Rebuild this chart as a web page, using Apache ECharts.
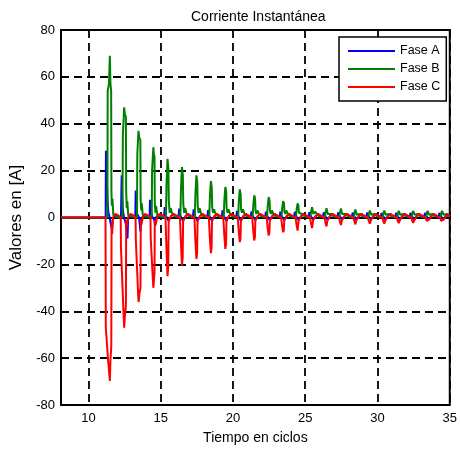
<!DOCTYPE html>
<html>
<head>
<meta charset="utf-8">
<script src="https://cdn.jsdelivr.net/npm/echarts@6/dist/echarts.min.js"></script>
<style>html,body{margin:0;padding:0;background:#fff}#c{width:460px;height:451px}</style>
</head>
<body>
<div id="c"></div>
<script>
var seriesNames = ['Fase A', 'Fase B', 'Fase C'];
var xTickLabels = [10, 15, 20, 25, 30, 35];
var yTickLabels = [-80, -60, -40, -20, 0, 20, 40, 60, 80];

// Fase A (blue) [ciclos, A]
var faseA = [
[8.1,0],[11.19,0],[11.21,28.5],[11.25,20],[11.29,13],[11.33,6],[11.38,2],[11.45,0.5],[11.52,-2],[11.62,-5],[11.68,-1],[11.8,1],[12.0,0.5],
[12.25,0],[12.28,12],[12.30,18],[12.33,10],[12.38,3],[12.46,0],[12.6,-3],[12.7,-9],[12.74,-1],[12.85,1],[13.05,0.5],
[13.24,0],[13.27,11.5],[13.30,6],[13.37,1.5],[13.5,0],[13.6,-6],[13.64,-1],[13.8,1],[14.0,0.5],
[14.23,0],[14.26,7.6],[14.30,3],[14.4,0.5],[14.55,-1],[14.62,-3.5],[14.66,0],[14.85,1],[15.0,0.5],
[15.22,0],[15.28,4.4],[15.34,1],[15.55,-1.5],[15.7,0.5],[15.9,1.5],
[16.22,0],[16.28,3.8],[16.34,1],[16.55,-1.5],[16.7,0.5],[16.9,1.5],
[17.22,0],[17.28,3.5],[17.34,1],[17.55,-1.5],[17.7,0.5],[17.9,1.5],
[18.22,0],[18.28,3.2],[18.34,1],[18.55,-1.5],[18.7,0.5],[18.9,1.5],
[19.22,0],[19.28,3.0],[19.34,1],[19.55,-1.5],[19.7,0.5],[19.9,1.5],
[20.22,0],[20.28,2.8],[20.34,1],[20.55,-1.5],[20.7,0.5],[20.9,1.5],
[21.22,0],[21.28,2.6],[21.34,1],[21.55,-1.2],[21.7,0.5],[21.9,1.5],
[22.22,0],[22.28,2.5],[22.34,1],[22.55,-1.2],[22.7,0.5],[22.9,1.5],
[23.22,0],[23.28,2.5],[23.34,1],[23.55,-1.2],[23.7,0.5],[23.9,1.5],
[24.22,0],[24.28,2.4],[24.34,1],[24.55,-1.2],[24.7,0.5],[24.9,1.5],
[25.22,0],[25.28,2.3],[25.34,1],[25.55,-1],[25.7,0.5],[25.9,1.5],
[26.22,0],[26.28,2.2],[26.34,1],[26.55,-1],[26.7,0.5],[26.9,1.5],
[27.22,0],[27.28,2.2],[27.34,1],[27.55,-1],[27.7,0.5],[27.9,1.5],
[28.22,0],[28.28,2.1],[28.34,1],[28.55,-1],[28.7,0.5],[28.9,1.5],
[29.22,0],[29.28,2.1],[29.34,1],[29.55,-1],[29.7,0.5],[29.9,1.5],
[30.22,0],[30.28,2.0],[30.34,1],[30.55,-1],[30.7,0.5],[30.9,1.5],
[31.22,0],[31.28,2.0],[31.34,1],[31.55,-1],[31.7,0.5],[31.9,1.5],
[32.22,0],[32.28,2.0],[32.34,1],[32.55,-1],[32.7,0.5],[32.9,1.5],
[33.22,0],[33.28,2.0],[33.34,1],[33.55,-1],[33.7,0.5],[33.9,1.5],
[34.22,0],[34.28,2.0],[34.34,1],[34.55,-1],[34.7,0.5],[35,1]
];

// Fase B (green)
var faseB = [
[8.1,0],[11.31,0],[11.33,54],[11.42,57],[11.48,69],[11.52,57],[11.57,54],[11.59,11],[11.62,5],[11.66,8],[11.72,1],[11.85,0.5],[12.0,0],
[12.35,0],[12.38,35],[12.47,47],[12.52,44],[12.59,43],[12.61,11],[12.65,4],[12.69,7],[12.75,1],[12.9,0.5],
[13.36,0],[13.38,27],[13.46,37],[13.52,34],[13.59,33],[13.61,8],[13.65,3],[13.69,6],[13.76,1],[13.9,0.5],
[14.38,0],[14.40,20],[14.49,30],[14.53,27],[14.57,26],[14.59,6],[14.63,2],[14.68,5],[14.76,1],[14.9,0.5],
[15.36,0],[15.40,14],[15.47,25],[15.53,21],[15.56,7],[15.62,2],[15.69,4],[15.8,1.5],[15.95,0.5],
[16.36,0],[16.40,12],[16.47,21.5],[16.53,18],[16.56,6],[16.62,2],[16.69,4],[16.8,1.5],[16.95,0.5],
[17.36,0],[17.40,10],[17.47,18],[17.53,15],[17.56,5],[17.62,2],[17.69,4],[17.8,1.5],[17.95,0.5],
[18.36,0],[18.40,8.5],[18.47,15.5],[18.53,13],[18.56,4.5],[18.62,2],[18.69,3.5],[18.8,1.5],[18.95,0.5],
[19.36,0],[19.40,7],[19.47,13],[19.53,11],[19.56,4],[19.62,2],[19.69,3.5],[19.8,1.5],[19.95,0.5],
[20.36,0],[20.40,6.5],[20.47,12],[20.53,10],[20.56,3.5],[20.62,2],[20.69,3.5],[20.8,1.5],[20.95,0.5],
[21.36,0],[21.40,5],[21.47,9.5],[21.53,8],[21.56,3],[21.62,1.5],[21.69,3],[21.8,1.5],[21.95,0.5],
[22.36,0],[22.40,4.7],[22.47,8.7],[22.53,7.3],[22.56,3],[22.62,1.5],[22.69,3],[22.8,1.5],[22.95,0.5],
[23.36,0],[23.40,3.8],[23.47,7],[23.53,6],[23.56,2.5],[23.62,1.5],[23.69,3],[23.8,1.5],[23.95,0.5],
[24.36,0],[24.40,3.3],[24.47,6],[24.53,5],[24.56,2],[24.62,1.5],[24.69,2.5],[24.8,1.5],[24.95,0.5],
[25.36,0],[25.40,2.4],[25.47,4.4],[25.53,3.7],[25.56,1.5],[25.62,1],[25.69,2.5],[25.8,1.5],[25.95,0.5],
[26.36,0],[26.40,2.2],[26.47,4],[26.53,3.4],[26.56,1.5],[26.62,1],[26.69,2.2],[26.8,1.5],[26.95,0.5],
[27.36,0],[27.40,2.1],[27.47,3.8],[27.53,3.2],[27.56,1.5],[27.62,1],[27.69,2.2],[27.8,1.5],[27.95,0.5],
[28.36,0],[28.40,1.9],[28.47,3.4],[28.53,2.9],[28.56,1.2],[28.62,1],[28.69,2],[28.8,1.5],[28.95,0.5],
[29.36,0],[29.40,1.7],[29.47,3],[29.53,2.5],[29.56,1.2],[29.62,1],[29.69,2],[29.8,1.5],[29.95,0.5],
[30.36,0],[30.40,1.7],[30.47,3],[30.53,2.5],[30.56,1.2],[30.62,1],[30.69,2],[30.8,1.5],[30.95,0.5],
[31.36,0],[31.40,1.6],[31.47,2.8],[31.53,2.4],[31.56,1.2],[31.62,1],[31.69,2],[31.8,1.5],[31.95,0.5],
[32.36,0],[32.40,1.6],[32.47,2.8],[32.53,2.4],[32.56,1.2],[32.62,1],[32.69,2],[32.8,1.5],[32.95,0.5],
[33.36,0],[33.40,1.6],[33.47,2.8],[33.53,2.4],[33.56,1.2],[33.62,1],[33.69,2],[33.8,1.5],[33.95,0.5],
[34.36,0],[34.40,1.6],[34.47,2.8],[34.53,2.4],[34.56,1.2],[34.62,1],[34.69,2],[34.8,1.5],[35,0.5]
];

// Fase C (red)
var faseC = [
[8.1,0],[11.18,0],[11.20,-47],[11.36,-61],[11.48,-69.7],[11.52,-61],[11.58,-55],[11.60,-2],[11.64,-7],[11.7,0],[11.85,1.5],[12.05,1],
[12.23,0],[12.25,-13],[12.42,-40],[12.47,-47],[12.53,-41],[12.59,-38],[12.61,-1],[12.66,-4],[12.74,0],[12.9,1.5],[13.1,1],
[13.26,0],[13.28,-10],[13.44,-33],[13.47,-36],[13.54,-32],[13.60,-30],[13.62,-1],[13.67,-3],[13.75,0],[13.9,1.5],[14.1,1],
[14.29,0],[14.31,-9],[14.46,-27],[14.49,-30],[14.54,-26],[14.57,-24],[14.59,-1],[14.65,-3],[14.75,0],[14.9,1.5],[15.1,1],
[15.33,0],[15.40,-14],[15.47,-25],[15.52,-21],[15.55,-1],[15.68,-1],[15.85,1.5],
[16.33,0],[16.40,-11],[16.47,-20.5],[16.52,-17],[16.55,-1],[16.68,-1],[16.85,1.5],
[17.33,0],[17.40,-10],[17.47,-17.7],[17.52,-15],[17.55,-1],[17.68,-1],[17.85,1.5],
[18.33,0],[18.40,-8.5],[18.47,-15.2],[18.52,-13],[18.55,-1],[18.68,-1],[18.85,1.5],
[19.33,0],[19.40,-7.5],[19.47,-13.4],[19.52,-11.4],[19.55,-1],[19.68,-1],[19.85,1.5],
[20.33,0],[20.40,-6],[20.47,-10.5],[20.52,-9],[20.55,-1],[20.68,-1],[20.85,1.5],
[21.33,0],[21.40,-5.5],[21.47,-9.8],[21.52,-8.3],[21.55,-1],[21.68,-1],[21.85,1.5],
[22.33,0],[22.40,-4.4],[22.47,-7.7],[22.52,-6.5],[22.55,-1],[22.68,-1],[22.85,1.5],
[23.33,0],[23.40,-3.6],[23.47,-6.3],[23.52,-5.4],[23.55,-1],[23.68,-1],[23.85,1.5],
[24.33,0],[24.40,-3.2],[24.47,-5.6],[24.52,-4.8],[24.55,-1],[24.68,-1],[24.85,1.5],
[25.33,0],[25.40,-2.6],[25.47,-4.5],[25.52,-3.8],[25.55,-1],[25.68,-1],[25.85,1.5],
[26.33,0],[26.40,-2.2],[26.47,-3.8],[26.52,-3.2],[26.55,-1],[26.68,-1],[26.85,1.5],
[27.33,0],[27.40,-1.9],[27.47,-3.2],[27.52,-2.7],[27.55,-1],[27.68,-1],[27.85,1.5],
[28.33,0],[28.40,-1.7],[28.47,-2.9],[28.52,-2.5],[28.55,-1],[28.68,-1],[28.85,1.5],
[29.33,0],[29.40,-1.6],[29.47,-2.6],[29.52,-2.2],[29.55,-1],[29.68,-1],[29.85,1.5],
[30.33,0],[30.40,-1.6],[30.47,-2.6],[30.52,-2.2],[30.55,-1],[30.68,-1],[30.85,1.5],
[31.33,0],[31.40,-1.5],[31.47,-2.4],[31.52,-2],[31.55,-1],[31.68,-1],[31.85,1.5],
[32.33,0],[32.40,-1.4],[32.47,-2.3],[32.52,-2],[32.55,-1],[32.68,-1],[32.85,1.5],
[33.33,0],[33.40,-1.4],[33.47,-2.2],[33.52,-1.9],[33.55,-1],[33.68,-1],[33.85,1.5],
[34.33,0],[34.40,-1.4],[34.47,-2.2],[34.52,-1.9],[34.55,-1],[34.68,-1],[34.85,1.5],[35,0.5]
];

var seriesData = [faseA, faseB, faseC];
var seriesColors = ['#0000ff', '#008000', '#ff0000'];
var FONT = 'Liberation Sans, Arial, Helvetica, sans-serif';

var chart = echarts.init(document.getElementById('c'), null, {renderer: 'canvas'});
chart.setOption({
  animation: false,
  backgroundColor: '#fff',
  title: {
    text: 'Corriente Instantánea',
    left: 186, top: 5,
    textStyle: {fontFamily: FONT, fontSize: 14, fontWeight: 'normal', color: '#000'}
  },
  legend: {
    data: seriesNames.map(function (n) { return {name: n, icon: 'rect'}; }),
    orient: 'vertical',
    left: 339, top: 37,
    padding: [7, 6, 7, 9],
    itemWidth: 47, itemHeight: 2, itemGap: 4,
    backgroundColor: '#fff',
    borderColor: '#000', borderWidth: 1.5,
    textStyle: {fontFamily: FONT, fontSize: 12.5, color: '#000', lineHeight: 14}
  },
  grid: {left: 61, right: 6.5, top: 30, bottom: 46, show: true, borderColor: '#000', borderWidth: 2, backgroundColor: 'transparent'},
  xAxis: {
    type: 'value', min: 8.1, max: 35, splitNumber: 5,
    name: 'Tiempo en ciclos', nameLocation: 'middle', nameGap: 26,
    nameTextStyle: {fontFamily: FONT, fontSize: 14, color: '#000'},
    axisLine: {show: true, lineStyle: {color: '#000', width: 2}},
    axisTick: {show: true, inside: true, length: 4, lineStyle: {color: '#000'}},
    axisLabel: {
      showMinLabel: false, margin: 7,
      fontFamily: FONT, fontSize: 13, color: '#000',
      formatter: function (v) { return xTickLabels.indexOf(Math.round(v * 1000) / 1000) >= 0 ? String(v) : ''; }
    },
    splitLine: {show: true, lineStyle: {color: '#000', width: 1.8, type: [8, 5]}}
  },
  yAxis: {
    type: 'value', min: yTickLabels[0], max: yTickLabels[yTickLabels.length - 1], interval: 20,
    name: 'Valores en [A]', nameLocation: 'middle', nameGap: 36,
    nameTextStyle: {fontFamily: FONT, fontSize: 17, color: '#000'},
    axisLine: {show: true, lineStyle: {color: '#000', width: 2}},
    axisTick: {show: true, inside: true, length: 4, lineStyle: {color: '#000'}},
    axisLabel: {margin: 6, fontFamily: FONT, fontSize: 13, color: '#000'},
    splitLine: {show: true, lineStyle: {color: '#000', width: 1.8, type: [8, 5]}}
  },
  series: seriesNames.map(function (n, i) {
    return {
      name: n, type: 'line', data: seriesData[i],
      symbol: 'none', showSymbol: false, smooth: false,
      lineStyle: {color: seriesColors[i], width: 2},
      itemStyle: {color: seriesColors[i]},
      z: 3 + i
    };
  })
});
</script>
</body>
</html>
